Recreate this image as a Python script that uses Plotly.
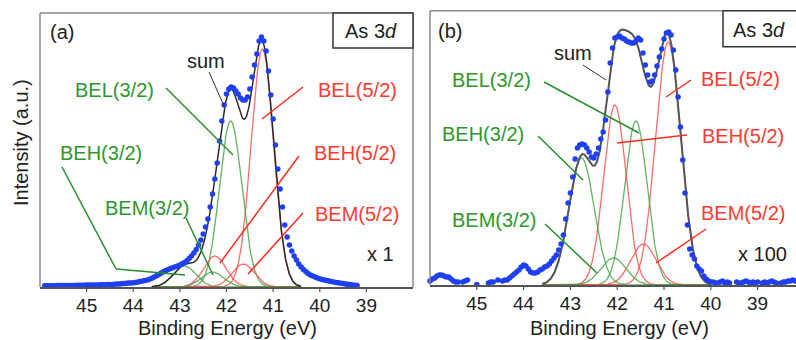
import numpy as np
import plotly.graph_objects as go

W, H = 796, 340

# ---------------- data ----------------
# (a) measured spectrum, 45.90 eV -> 39.20 eV, 0.05 eV step
E_START_A = 45.90
E_STEP = 0.05
intensity_a = [
    1.2, 1.2, 1.3, 1.3, 1.3, 1.4, 1.4, 1.4, 1.5, 1.5, 1.5, 1.6, 1.6, 1.6, 1.7, 1.7, 1.8, 1.8, 1.9,
    1.9, 2.0, 2.0, 2.1, 2.1, 2.2, 2.2, 2.3, 2.4, 2.5, 2.6, 2.7, 2.9, 3.1, 3.3, 3.5, 3.7, 3.9, 4.1, 4.3,
    4.6, 5.0, 5.4, 5.9, 6.4, 7.0, 7.8, 8.8, 10.0, 11.3, 12.6, 13.9, 15.2, 16.4, 17.4, 18.4, 19.3, 20.2, 21.1, 22.0,
    23.2, 24.6, 26.3, 28.4, 31.0, 34.0, 37.5, 42.0, 47.0, 53.0, 60.0, 68.0, 80.0, 93.0, 108.0, 124.0, 146.0, 166.0, 182.0, 193.0,
    198, 200, 199, 196, 193, 189, 187, 187, 190, 198, 210, 222, 233, 246, 250, 246, 236, 216, 192, 168,
    142, 118, 98, 80, 62, 50, 42, 36, 31, 27, 23, 20, 17.5, 15.5, 13.5, 12, 11, 10, 9, 8.3,
    7.6, 7.0, 6.4, 5.9, 5.4, 5.0, 4.6, 4.2, 3.8, 3.4, 3.0, 2.7, 2.4, 2.1, 1.8, 1.5,
]

# (b) measured spectrum (x100), 46.00 eV -> 38.20 eV, 0.05 eV step (None = no visible point)
E_START_B = 46.00
intensity_b = [
    4, 6, 7, 9, 10, 10, 9, 8, 8, 6, 4, 3, 3, None, 3, 4, 5, None, None, None,
    0.5, None, None, None, None, 2, 3, 3, None, 5, None, 4, 5, 5, 7, 9, 11, 13, 15, 18,
    20, 19, 16, 13, 12, 12, 13, 15, 16, 18, 19, 21, 24, 27, 30, 35, 41, 50, 66, 82,
    92, 108, 126, 137, 140, 141, 140, 137, 133, 128, 127, 131, 137, 146, 153, 165, 193, 222, 237, 247,
    248, 249, 247, 246, 244, 243, 242, 242, 244, 247, 245, 232, 220, 210, 203, 204, 210, 219, 228, 236,
    246, 252, 253, 250, 235, 215, 188, 158, 125, 92, 60, 36, 30, 26, 19, 16, 14, 9, 6, 4,
    3,
    3, 2, 2, 3, 4, 2, 3, 2, None, None, 3, 2, 2, 3, 4, 3, 2, 3, 2, 3,
    None, 2, 3, 2, 3, 4, 3, 2, None, 2, 3, 3, 4, 4, 5, 4,
]

# fitted components (Gaussian peaks): name, centre (eV), height (a.u.), width sigma (eV)
comp_names = ["BEL(5/2)", "BEL(3/2)", "BEH(5/2)", "BEH(3/2)", "BEM(5/2)", "BEM(3/2)"]
comp_is_52 = [True, False, True, False, True, False]
center_a = [41.23, 41.91, 42.25, 42.90, 41.64, 42.30]
height_a = [238, 166, 31, 21, 23, 15]
sigma_a = [0.24, 0.24, 0.24, 0.24, 0.24, 0.24]
center_b = [40.91, 41.60, 42.05, 42.76, 41.44, 42.08]
height_b = [243, 164, 180, 127, 41, 27]
sigma_b = [0.27, 0.24, 0.24, 0.27, 0.27, 0.27]
fit_span_a = (43.6, 40.4)
fit_span_b = (43.6, 40.0)

tick_vals = [45, 44, 43, 42, 41, 40, 39]
x_range_a = [46, 38]
x_range_b = [46, 38.18]

# ---------------- styles ----------------
FONT = "Liberation Sans, Arial, sans-serif"
BLUE = "#1f3ff2"
RED_LINE = "rgba(255,70,70,0.8)"
GREEN_LINE = "rgba(60,160,60,0.8)"
RED_TXT = "#ff3a2e"
GREEN_TXT = "#2f962f"
RED_LEAD = "#ff2b1c"
GREEN_LEAD = "#26902a"
AXIS = "#555555"

A_TOP, A_BOT = 13, 287
B_TOP, B_BOT = 10.7, 285


def P(px, py):
    return px / W, 1 - py / H


energy_a = E_START_A - E_STEP * np.arange(len(intensity_a))
energy_b = E_START_B - E_STEP * np.arange(len(intensity_b))

fig = go.Figure()


def add_panel(xa, ya, energy, inten, centers, heights, sigmas, span, sum_color, sum_width):
    e_fit = np.linspace(span[0], span[1], 400)
    total = np.zeros_like(e_fit)
    for c, h, s, is52 in zip(centers, heights, sigmas, comp_is_52):
        y = h * np.exp(-((e_fit - c) ** 2) / (2 * s ** 2))
        total += y
        fig.add_trace(go.Scatter(x=e_fit, y=y, mode="lines", xaxis=xa, yaxis=ya,
                                 line=dict(color=RED_LINE if is52 else GREEN_LINE, width=1.3),
                                 showlegend=False, hoverinfo="skip"))
    fig.add_trace(go.Scatter(x=e_fit, y=total, mode="lines", xaxis=xa, yaxis=ya,
                             line=dict(color=sum_color, width=sum_width),
                             showlegend=False, hoverinfo="skip"))
    fig.add_trace(go.Scatter(x=energy, y=inten, mode="markers", xaxis=xa, yaxis=ya,
                             marker=dict(color=BLUE, size=5.5), cliponaxis=False,
                             showlegend=False))


add_panel("x", "y", energy_a, intensity_a, center_a, height_a, sigma_a, fit_span_a, "#2a2a2a", 1.5)
add_panel("x2", "y2", energy_b, intensity_b, center_b, height_b, sigma_b, fit_span_b, "#555555", 2.0)

axis_common = dict(tickvals=tick_vals, ticks="", showline=True, linecolor=AXIS, linewidth=1.5,
                   showgrid=False, zeroline=False,
                   tickfont=dict(family=FONT, size=19, color="#222"), mirror=False)

fig.update_layout(
    width=W, height=H, margin=dict(l=0, r=0, t=0, b=0),
    paper_bgcolor="white", plot_bgcolor="white",
    xaxis=dict(domain=[40 / W, 413 / W], range=x_range_a, anchor="y", **axis_common),
    yaxis=dict(domain=[1 - A_BOT / H, 1 - A_TOP / H], range=[0, 274], visible=False, anchor="x"),
    xaxis2=dict(domain=[430 / W, 1.0], range=x_range_b, anchor="y2", **axis_common),
    yaxis2=dict(domain=[1 - B_BOT / H, 1 - B_TOP / H], range=[0, 274.3], visible=False, anchor="x2"),
)

shapes = []


def seg(x0, y0, x1, y1, color, width=1.5):
    a = P(x0, y0)
    b = P(x1, y1)
    shapes.append(dict(type="line", xref="paper", yref="paper", x0=a[0], y0=a[1], x1=b[0], y1=b[1],
                       line=dict(color=color, width=width)))


# outside tick marks (at the tick values, 5 px long)
for xref, bot in [("x", A_BOT), ("x2", B_BOT)]:
    for tv in tick_vals:
        shapes.append(dict(type="line", xref=xref, yref="paper", x0=tv, x1=tv,
                           y0=1 - bot / H, y1=1 - (bot + 5) / H,
                           line=dict(color=AXIS, width=1.2)))

# frames
FRAME = "#8a8a8a"
seg(40, A_TOP, 40, A_BOT, FRAME)
seg(40, A_TOP, 413, A_TOP, FRAME)
seg(413, A_TOP, 413, A_BOT, FRAME)
seg(430, B_TOP, 430, B_BOT, FRAME)
seg(430, B_TOP, 796, B_TOP, FRAME)

# As 3d boxes
for (x0, y0, x1, y1) in [(333, 13, 413, 48), (723, 10.7, 800, 46.7)]:
    a = P(x0, y0)
    b = P(x1, y1)
    shapes.append(dict(type="rect", xref="paper", yref="paper", x0=a[0], y0=a[1], x1=b[0], y1=b[1],
                       line=dict(color="#333", width=1.5), fillcolor="white", layer="above"))

# leader lines panel (a)
seg(209, 72, 224, 106, "#333", 1)
seg(166, 88, 233, 155, GREEN_LEAD)
seg(62, 167, 116, 269, GREEN_LEAD)
seg(116, 269, 185, 275, GREEN_LEAD)
seg(186, 218, 213, 275, GREEN_LEAD)
seg(303, 87, 262, 119, RED_LEAD)
seg(299, 156, 220, 263, RED_LEAD)
seg(303, 213, 248, 274, RED_LEAD)
# leader lines panel (b)
seg(583, 65, 606, 80, "#333", 1)
seg(544, 82, 639, 133, GREEN_LEAD)
seg(538, 136, 583, 180, GREEN_LEAD)
seg(545, 224, 597, 273, GREEN_LEAD)
seg(691, 80, 666, 97, RED_LEAD)
seg(687, 135, 617, 143, RED_LEAD)
seg(706, 229, 656, 263, RED_LEAD)

fig.update_layout(shapes=shapes)

annotations = []


def label(px, py, text, color, size=20, angle=0):
    x, y = P(px, py)
    annotations.append(dict(x=x, y=y, xref="paper", yref="paper", text=text, showarrow=False,
                            xanchor="center", yanchor="middle", textangle=angle,
                            font=dict(family=FONT, size=size, color=color)))


label(62, 32, "(a)", "#222")
label(371, 31, "As 3<i>d</i>", "#222")
label(206, 61, "sum", "#222")
label(114, 90, "BEL(3/2)", GREEN_TXT)
label(101, 153, "BEH(3/2)", GREEN_TXT)
label(147, 208, "BEM(3/2)", GREEN_TXT)
label(357, 90, "BEL(5/2)", RED_TXT)
label(355, 153, "BEH(5/2)", RED_TXT)
label(357, 214, "BEM(5/2)", RED_TXT)
label(380, 254, "x 1", "#222")

label(450, 31, "(b)", "#222")
label(759, 30, "As 3<i>d</i>", "#222")
label(573, 53, "sum", "#222")
label(491, 80, "BEL(3/2)", GREEN_TXT)
label(483, 134, "BEH(3/2)", GREEN_TXT)
label(494, 220, "BEM(3/2)", GREEN_TXT)
label(740, 79, "BEL(5/2)", RED_TXT)
label(743, 136, "BEH(5/2)", RED_TXT)
label(743, 213, "BEM(5/2)", RED_TXT)
label(762, 254, "x 100", "#222")

label(227, 328, "Binding Energy (eV)", "#222")
label(619, 328, "Binding Energy (eV)", "#222")
label(21, 143, "Intensity (a.u.)", "#222", angle=-90)

fig.update_layout(annotations=annotations)

fig.write_html("out.html")
